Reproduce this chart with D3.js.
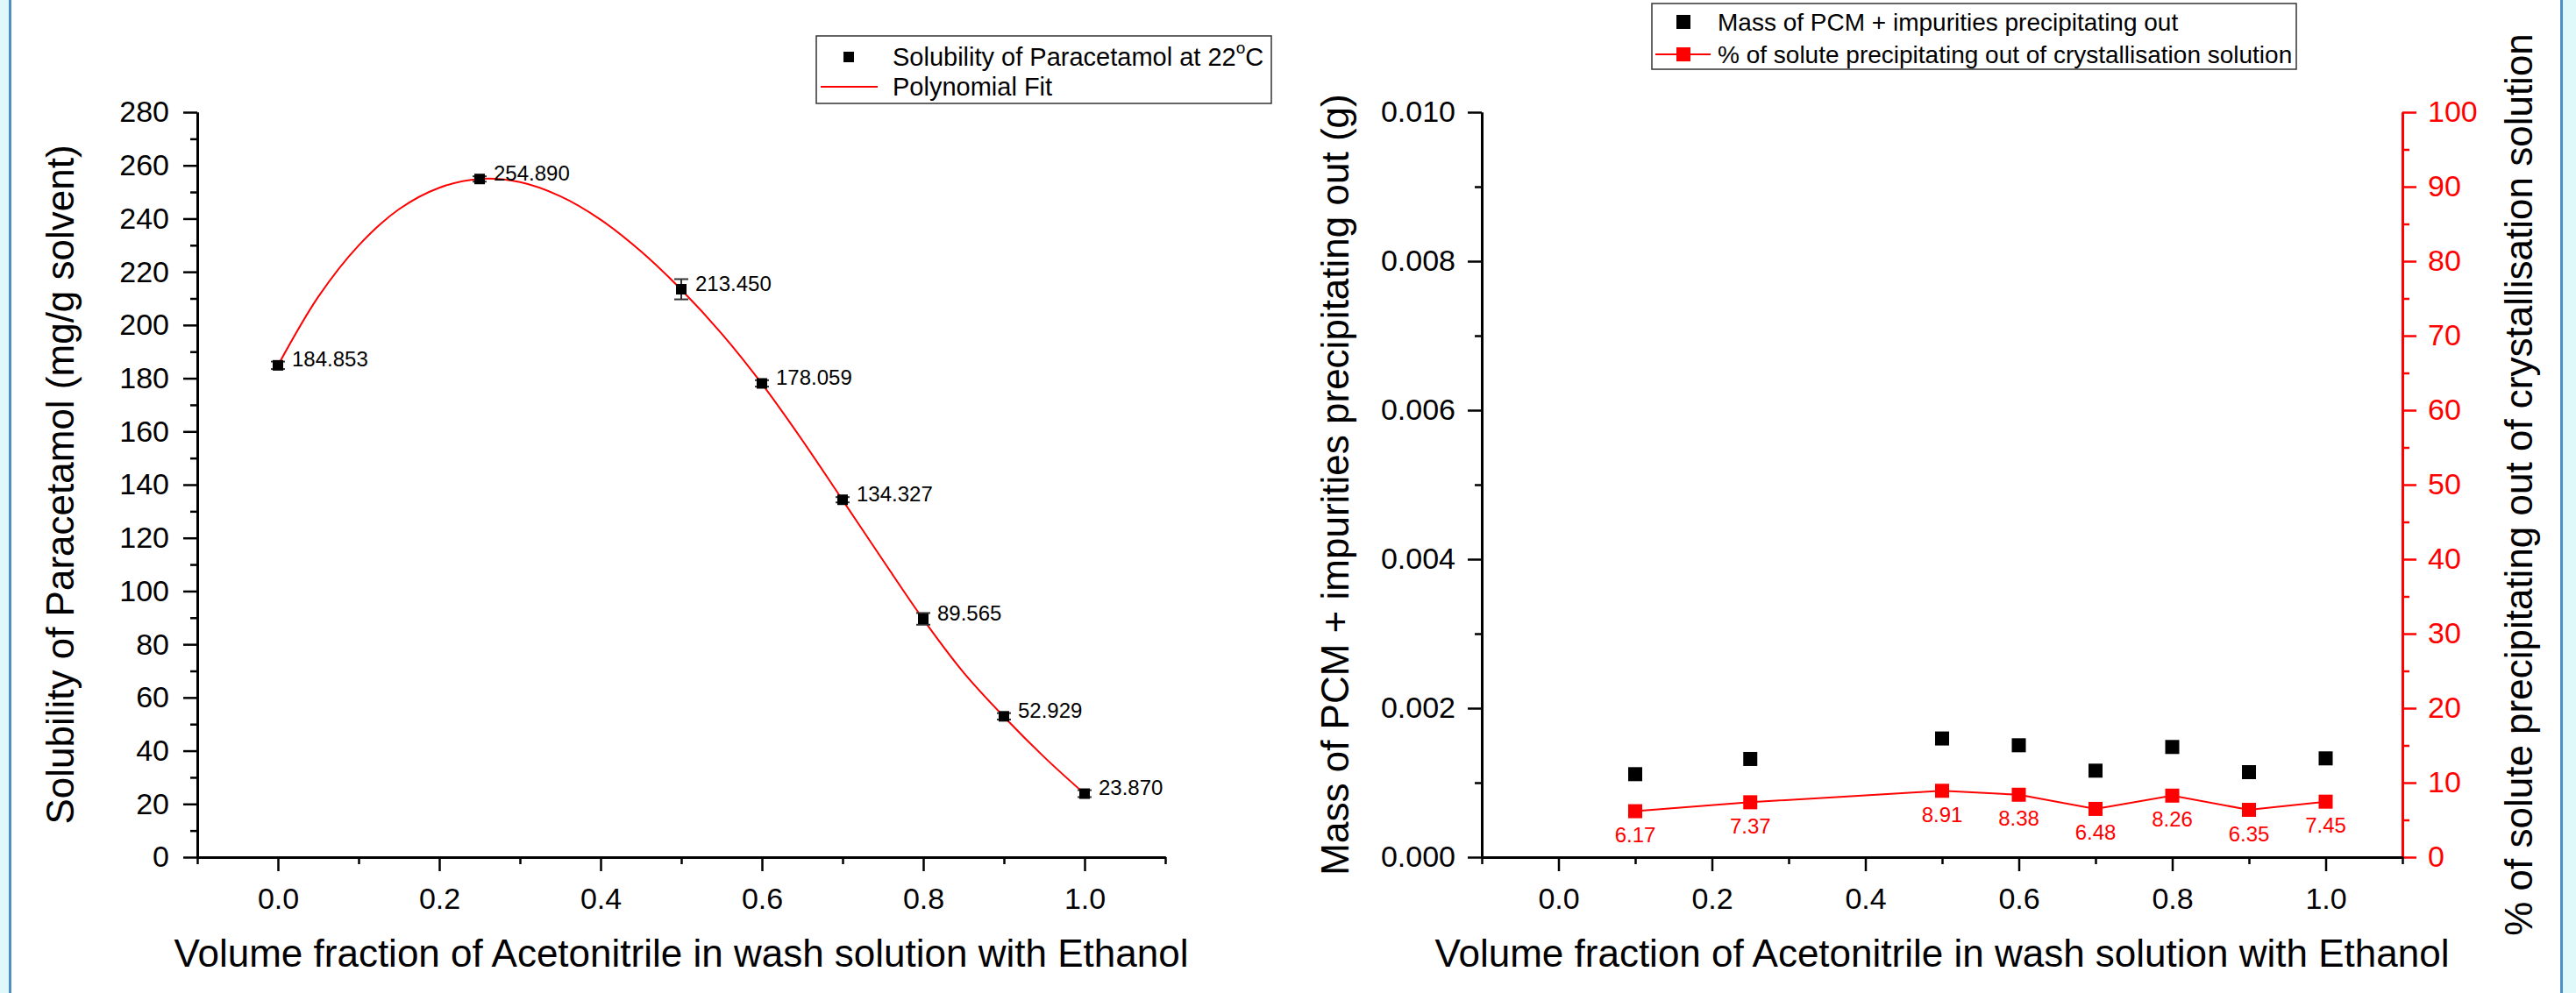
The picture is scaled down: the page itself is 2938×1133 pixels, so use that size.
<!DOCTYPE html>
<html>
<head>
<meta charset="utf-8">
<script src="https://cdn.jsdelivr.net/npm/d3@7"></script>
<style>
  body { margin: 0; background: #fff; }
  svg { display: block; font-family: "Liberation Sans", Arial, sans-serif; }
</style>
</head>
<body>
<div id="chart"></div>
<script>
// left panel: solubility
const solX = [0, 0.25, 0.5, 0.6, 0.7, 0.8, 0.9, 1.0];
const solY = [184.853, 254.890, 213.450, 178.059, 134.327, 89.565, 52.929, 23.870];
const solErr = [1.4, 1.0, 3.8, 1.2, 1.0, 2.2, 1.2, 1.3];
// polynomial fit
const fitX = [0, 0.05, 0.1, 0.15, 0.2, 0.25, 0.3, 0.35, 0.4, 0.45, 0.5, 0.55, 0.6, 0.65, 0.7, 0.75, 0.8, 0.85, 0.9, 0.95, 1.0];
const fitY = [184.8, 210.6, 229.9, 243.5, 251.6, 254.9, 253.7, 248.4, 239.6, 227.7, 213.3, 196.8, 177.9, 156.7, 134.2, 111.6, 89.4, 69.4, 52.8, 37.6, 23.8];

// right panel: precipitation
const washX = [0.1, 0.25, 0.5, 0.6, 0.7, 0.8, 0.9, 1.0];
const massY = [0.001114, 0.001318, 0.001593, 0.001502, 0.001161, 0.001479, 0.001141, 0.001326];
const pctY = [6.17, 7.37, 8.91, 8.38, 6.48, 8.26, 6.35, 7.45];

const xTicks = [0, 0.2, 0.4, 0.6, 0.8, 1.0];
const xMinor = [-0.1, 0.1, 0.3, 0.5, 0.7, 0.9, 1.1];

const W = 2938, H = 1133;
const plotTop = 128, plotBottom = 978;
const tickFont = 34, titleFont = 44, labelFont = 24;

const svg = d3.select("#chart").append("svg")
    .attr("width", W)
    .attr("height", H);

// page edges
svg.append("rect").attr("x", 0).attr("y", 0).attr("width", 11).attr("height", H).attr("fill", "#dff9fb");
svg.append("line").attr("x1", 11.5).attr("x2", 11.5).attr("y1", 0).attr("y2", H)
    .attr("stroke", "#4f8fc8").attr("stroke-width", 3);
svg.append("rect").attr("x", 2922).attr("y", 0).attr("width", 16).attr("height", H).attr("fill", "#dff9fb");
svg.append("line").attr("x1", 2921.5).attr("x2", 2921.5).attr("y1", 0).attr("y2", H)
    .attr("stroke", "#4f8fc8").attr("stroke-width", 3);

function styleAxis(g, color) {
  g.select(".domain").attr("stroke", color).attr("stroke-width", 3);
  g.selectAll(".tick line").attr("stroke", color).attr("stroke-width", 2.5);
  g.selectAll(".tick text").attr("fill", color).style("font-size", tickFont + "px");
}

function xAxes(x) {
  svg.append("g")
      .attr("transform", `translate(0,${plotBottom})`)
      .call(d3.axisBottom(x).tickValues(xMinor).tickSize(8).tickSizeOuter(0).tickFormat(""))
      .call(g => styleAxis(g, "#000"));
  svg.append("g")
      .attr("transform", `translate(0,${plotBottom})`)
      .call(d3.axisBottom(x).tickValues(xTicks).tickSize(16).tickPadding(19).tickSizeOuter(0).tickFormat(d3.format(".1f")))
      .call(g => styleAxis(g, "#000"));
  svg.append("text")
      .attr("x", (x.range()[0] + x.range()[1]) / 2)
      .attr("y", 1087)
      .attr("text-anchor", "middle")
      .attr("dominant-baseline", "central")
      .style("font-size", titleFont + "px")
      .text("Volume fraction of Acetonitrile in wash solution with Ethanol");
}

function yTitle(xPos, label) {
  svg.append("text")
      .attr("transform", `translate(${xPos},${(plotTop + plotBottom) / 2}) rotate(-90)`)
      .attr("text-anchor", "middle")
      .attr("dominant-baseline", "central")
      .style("font-size", titleFont + "px")
      .text(label);
}

// ---------------- left panel ----------------
const x1 = d3.scaleLinear().domain([-0.1, 1.1]).range([225, 1329]);
const y1 = d3.scaleLinear().domain([0, 280]).range([plotBottom, plotTop]);

const fitLine = d3.line()
    .x((d, i) => x1(fitX[i]))
    .y(d => y1(d))
    .curve(d3.curveCatmullRom);

svg.append("path")
    .datum(fitY)
    .attr("d", fitLine)
    .attr("fill", "none")
    .attr("stroke", "red")
    .attr("stroke-width", 2);

const solPts = solX.map((v, i) => ({x: v, y: solY[i], e: solErr[i]}));

const err = svg.append("g").attr("stroke", "#333").attr("stroke-width", 2);
solPts.forEach(d => {
  err.append("line").attr("x1", x1(d.x)).attr("x2", x1(d.x)).attr("y1", y1(d.y - d.e)).attr("y2", y1(d.y + d.e));
  err.append("line").attr("x1", x1(d.x) - 8).attr("x2", x1(d.x) + 8).attr("y1", y1(d.y - d.e)).attr("y2", y1(d.y - d.e));
  err.append("line").attr("x1", x1(d.x) - 8).attr("x2", x1(d.x) + 8).attr("y1", y1(d.y + d.e)).attr("y2", y1(d.y + d.e));
});

svg.append("g").selectAll("rect")
    .data(solPts)
    .join("rect")
    .attr("x", d => x1(d.x) - 6)
    .attr("y", d => y1(d.y) - 6)
    .attr("width", 12)
    .attr("height", 12)
    .attr("fill", "#000");

svg.append("g").selectAll("text")
    .data(solPts)
    .join("text")
    .attr("x", d => x1(d.x) + 16)
    .attr("y", d => y1(d.y) - 7)
    .attr("dominant-baseline", "central")
    .style("font-size", labelFont + "px")
    .text(d => d3.format(".3f")(d.y));

svg.append("g")
    .attr("transform", "translate(225,0)")
    .call(d3.axisLeft(y1).tickValues(d3.range(10, 280, 20)).tickSize(8).tickSizeOuter(0).tickFormat(""))
    .call(g => styleAxis(g, "#000"));
svg.append("g")
    .attr("transform", "translate(225,0)")
    .call(d3.axisLeft(y1).tickValues(d3.range(0, 281, 20)).tickSize(16).tickPadding(16).tickSizeOuter(0))
    .call(g => styleAxis(g, "#000"));
xAxes(x1);
yTitle(68, "Solubility of Paracetamol (mg/g solvent)");

// legend left
const lg1 = svg.append("g");
lg1.append("rect").attr("x", 931).attr("y", 41).attr("width", 519).attr("height", 77)
    .attr("fill", "#fff").attr("stroke", "#333").attr("stroke-width", 1.5);
lg1.append("rect").attr("x", 962).attr("y", 59).attr("width", 12).attr("height", 12).attr("fill", "#000");
lg1.append("line").attr("x1", 936).attr("x2", 1001).attr("y1", 99).attr("y2", 99)
    .attr("stroke", "red").attr("stroke-width", 2);
const t1 = lg1.append("text").attr("x", 1018).attr("y", 65).attr("dominant-baseline", "central")
    .style("font-size", "29px");
t1.append("tspan").text("Solubility of Paracetamol at 22");
t1.append("tspan").attr("dy", -11).style("font-size", "19px").text("o");
t1.append("tspan").attr("dy", 11).text("C");
lg1.append("text").attr("x", 1018).attr("y", 99).attr("dominant-baseline", "central")
    .style("font-size", "29px").text("Polynomial Fit");

// ---------------- right panel ----------------
const x2 = d3.scaleLinear().domain([-0.1, 1.1]).range([1690, 2740]);
const y2 = d3.scaleLinear().domain([0, 0.010]).range([plotBottom, plotTop]);
const y3 = d3.scaleLinear().domain([0, 100]).range([plotBottom, plotTop]);

svg.append("g").selectAll("rect")
    .data(washX)
    .join("rect")
    .attr("x", (d, i) => x2(d) - 8)
    .attr("y", (d, i) => y2(massY[i]) - 8)
    .attr("width", 16)
    .attr("height", 16)
    .attr("fill", "#000");

svg.append("path")
    .datum(pctY)
    .attr("d", d3.line().x((d, i) => x2(washX[i])).y(d => y3(d)))
    .attr("fill", "none")
    .attr("stroke", "red")
    .attr("stroke-width", 2);

svg.append("g").selectAll("rect")
    .data(pctY)
    .join("rect")
    .attr("x", (d, i) => x2(washX[i]) - 8)
    .attr("y", d => y3(d) - 8)
    .attr("width", 16)
    .attr("height", 16)
    .attr("fill", "red");

svg.append("g").selectAll("text")
    .data(pctY)
    .join("text")
    .attr("x", (d, i) => x2(washX[i]))
    .attr("y", d => y3(d) + 27)
    .attr("text-anchor", "middle")
    .attr("dominant-baseline", "central")
    .attr("fill", "red")
    .style("font-size", labelFont + "px")
    .text(d => d3.format(".2f")(d));

svg.append("g")
    .attr("transform", "translate(1690,0)")
    .call(d3.axisLeft(y2).tickValues(d3.range(0.001, 0.010, 0.002)).tickSize(8).tickSizeOuter(0).tickFormat(""))
    .call(g => styleAxis(g, "#000"));
svg.append("g")
    .attr("transform", "translate(1690,0)")
    .call(d3.axisLeft(y2).tickValues([0, 0.002, 0.004, 0.006, 0.008, 0.010]).tickSize(16).tickPadding(14).tickSizeOuter(0).tickFormat(d3.format(".3f")))
    .call(g => styleAxis(g, "#000"));
svg.append("g")
    .attr("transform", "translate(2740,0)")
    .call(d3.axisRight(y3).tickValues(d3.range(5, 100, 10)).tickSize(8).tickSizeOuter(0).tickFormat(""))
    .call(g => styleAxis(g, "red"));
svg.append("g")
    .attr("transform", "translate(2740,0)")
    .call(d3.axisRight(y3).tickValues(d3.range(0, 101, 10)).tickSize(16).tickPadding(13).tickSizeOuter(0))
    .call(g => styleAxis(g, "red"));
xAxes(x2);
yTitle(1522, "Mass of PCM + impurities precipitating out (g)");
yTitle(2872, "% of solute precipitating out of crystallisation solution");

// legend right
const lg2 = svg.append("g");
lg2.append("rect").attr("x", 1884).attr("y", 4).attr("width", 735).attr("height", 75)
    .attr("fill", "#fff").attr("stroke", "#333").attr("stroke-width", 1.5);
lg2.append("rect").attr("x", 1912).attr("y", 17).attr("width", 16).attr("height", 16).attr("fill", "#000");
lg2.append("line").attr("x1", 1888).attr("x2", 1951).attr("y1", 62).attr("y2", 62)
    .attr("stroke", "red").attr("stroke-width", 2);
lg2.append("rect").attr("x", 1912).attr("y", 54).attr("width", 16).attr("height", 16).attr("fill", "red");
lg2.append("text").attr("x", 1959).attr("y", 25).attr("dominant-baseline", "central")
    .style("font-size", "28px").text("Mass of PCM + impurities precipitating out");
lg2.append("text").attr("x", 1959).attr("y", 62).attr("dominant-baseline", "central")
    .style("font-size", "28px").text("% of solute precipitating out of crystallisation solution");
</script>
</body>
</html>
